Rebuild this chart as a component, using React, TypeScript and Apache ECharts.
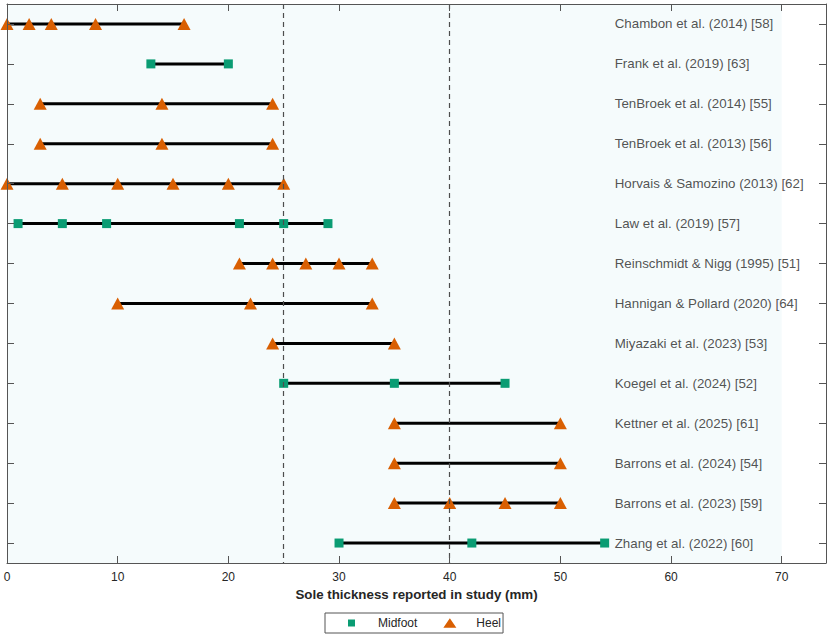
import React, { useRef, useEffect } from "react";
import * as echarts from "echarts";

const studies = [
  "Chambon et al. (2014) [58]",
  "Frank et al. (2019) [63]",
  "TenBroek et al. (2014) [55]",
  "TenBroek et al. (2013) [56]",
  "Horvais & Samozino (2013) [62]",
  "Law et al. (2019) [57]",
  "Reinschmidt & Nigg (1995) [51]",
  "Hannigan & Pollard (2020) [64]",
  "Miyazaki et al. (2023) [53]",
  "Koegel et al. (2024) [52]",
  "Kettner et al. (2025) [61]",
  "Barrons et al. (2024) [54]",
  "Barrons et al. (2023) [59]",
  "Zhang et al. (2022) [60]",
];

// which strike pattern each study reported on
const strike = [
  "Heel", "Midfoot", "Heel", "Heel", "Heel", "Midfoot", "Heel",
  "Heel", "Heel", "Midfoot", "Heel", "Heel", "Heel", "Midfoot",
];

// sole thicknesses (mm) tested in each study
const thickness = [
  [0, 2, 4, 8, 16],
  [13, 20],
  [3, 14, 24],
  [3, 14, 24],
  [0, 5, 10, 15, 20, 25],
  [1, 5, 9, 21, 25, 29],
  [21, 24, 27, 30, 33],
  [10, 22, 33],
  [24, 35],
  [25, 35, 45],
  [35, 50],
  [35, 50],
  [35, 40, 45, 50],
  [30, 42, 54],
];

const refLines = [25, 40];
const shadeRange = [0, 70];
const xMin = 0;
const xMax = 74;
const xStep = 10;
const labelAt = 55;

const GREEN = "#0a9c73";
const ORANGE = "#d95f02";
const AXIS = "#555555";
const TEXT = "#262626";
const FONT = "'Liberation Sans', Arial, Helvetica, sans-serif";

// legend icons: the tiny end segments pin the box to 13x12 so the marks keep their size
const SQUARE_ICON = "path://M0,0L0.01,0M3,2.5L10,2.5L10,9.5L3,9.5ZM12.99,12L13,12";
const TRIANGLE_ICON = "path://M0,0L0.01,0M6.5,1.3L13,10.8L0,10.8ZM12.99,12L13,12";

function buildOption() {
  const points = (kind: string) =>
    thickness.flatMap((vals, i) =>
      strike[i] === kind ? vals.map((v) => [v, studies[i]]) : []
    );

  const rangeSeries = thickness.map((vals, i) => ({
    name: "range" + i,
    type: "line",
    data: [
      [Math.min(...vals), studies[i]],
      [Math.max(...vals), studies[i]],
    ],
    symbol: "none",
    silent: true,
    z: 3,
    lineStyle: { color: "#000", width: 3 },
    ...(i === 0
      ? {
          markArea: {
            silent: true,
            z: 1,
            itemStyle: { color: "#f5fbfc" },
            data: [[{ xAxis: shadeRange[0] }, { xAxis: shadeRange[1] }]],
          },
          markLine: {
            silent: true,
            symbol: "none",
            label: { show: false },
            lineStyle: { color: "#4d4d4d", type: [5, 4], width: 1.2 },
            data: refLines.map((v) => ({ xAxis: v })),
          },
        }
      : {}),
  }));

  const ticksCommon = {
    z: 10,
    axisLine: { show: true, onZero: false, lineStyle: { color: AXIS, width: 1 } },
    axisTick: { show: true, inside: true, length: 7, lineStyle: { color: AXIS } },
    splitLine: { show: false },
  };

  return {
    animation: false,
    backgroundColor: "#fff",
    textStyle: { fontFamily: FONT },
    grid: { left: 7, right: 6, top: 4, bottom: 76 },
    legend: {
      data: [
        { name: "Midfoot", icon: SQUARE_ICON },
        { name: "Heel", icon: TRIANGLE_ICON },
      ],
      left: 325,
      top: 613,
      orient: "horizontal",
      itemWidth: 13,
      itemHeight: 12,
      itemGap: 26,
      padding: [4, 2, 4, 20],
      borderColor: AXIS,
      borderWidth: 1,
      textStyle: {
        color: TEXT,
        fontSize: 12,
        fontFamily: FONT,
        padding: [0, 0, 0, 15],
      },
    },
    xAxis: [
      {
        type: "value",
        position: "bottom",
        min: xMin,
        max: xMax,
        interval: xStep,
        name: "Sole thickness reported in study (mm)",
        nameLocation: "middle",
        nameGap: 24,
        nameTextStyle: { color: TEXT, fontSize: 13.33, fontWeight: "bold", fontFamily: FONT },
        axisLabel: { color: TEXT, fontSize: 12, margin: 8, showMaxLabel: false },
        ...ticksCommon,
      },
      {
        type: "value",
        position: "top",
        min: xMin,
        max: xMax,
        interval: xStep,
        axisLabel: { show: false },
        ...ticksCommon,
      },
    ],
    yAxis: [
      {
        type: "category",
        data: studies,
        inverse: true,
        position: "left",
        axisLabel: { show: false },
        ...ticksCommon,
        axisTick: { ...ticksCommon.axisTick, alignWithLabel: true },
      },
      {
        type: "category",
        data: studies,
        inverse: true,
        position: "right",
        axisLabel: { show: false },
        ...ticksCommon,
        axisTick: { ...ticksCommon.axisTick, alignWithLabel: true },
      },
    ],
    series: [
      ...rangeSeries,
      {
        name: "Midfoot",
        type: "scatter",
        data: points("Midfoot"),
        symbol: "rect",
        symbolSize: 9,
        z: 4,
        itemStyle: { color: GREEN, opacity: 1 },
      },
      {
        name: "Heel",
        type: "scatter",
        data: points("Heel"),
        symbol: "triangle",
        symbolSize: [13, 12],
        z: 4,
        itemStyle: { color: ORANGE, opacity: 1 },
      },
      {
        name: "labels",
        type: "scatter",
        data: studies.map((s) => [labelAt, s]),
        symbolSize: 1,
        silent: true,
        itemStyle: { color: "rgba(0,0,0,0)" },
        label: {
          show: true,
          position: "right",
          distance: 0,
          offset: [-1.5, 0],
          formatter: (p: any) => p.value[1],
          color: TEXT,
          fontSize: 13.33,
          fontFamily: FONT,
        },
      },
    ],
  };
}

export default function App() {
  const ref = useRef<HTMLDivElement>(null);

  useEffect(() => {
    if (!ref.current) return;
    const chart = echarts.init(ref.current, undefined, { renderer: "svg" });
    // eslint-disable-next-line @typescript-eslint/no-explicit-any
    chart.setOption(buildOption() as any);
    return () => chart.dispose();
  }, []);

  return (
    <div
      ref={ref}
      style={{ position: "fixed", left: 0, top: 0, width: 832, height: 639 }}
    />
  );
}
